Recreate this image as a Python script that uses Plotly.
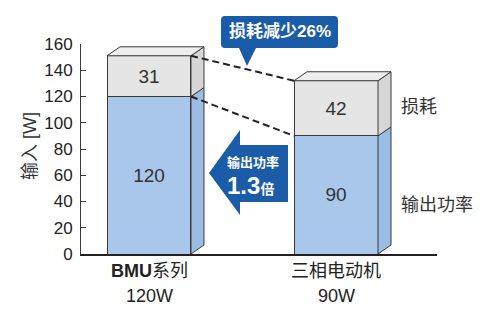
import plotly.graph_objects as go

categories = ["BMU系列", "三相电动机"]
power_labels = ["120W", "90W"]
output_power = [120, 90]
losses = [31, 42]
yticks = [0, 20, 40, 60, 80, 100, 120, 140, 160]

W, H = 490, 314
L, R, T, B = 81, 53, 44, 60
PW, PH = W - L - R, H - T - B
XR = [-0.3636, 1.540]
YR = [0, 160]
BW = 0.449
DX = 13 / (PW / (XR[1] - XR[0]))
DY = 9 / (PH / (YR[1] - YR[0]))

def px(x):
    return (x - L) / PW

def py(y):
    return (H - B - y) / PH

FONT = "Liberation Sans, Arial, Noto Sans CJK SC"
TXT = "#333333"
BLUE = "#a9c7ea"
BLUE_SIDE = "#9cbde3"
GRAY = "#e5e5e5"
GRAY_SIDE = "#d6d6d6"
GRAY_TOP = "#eeeeee"
DARK = "#1b5ca8"
EDGE = "#3a3a3a"

xs = list(range(len(categories)))
fig = go.Figure()
fig.add_trace(go.Bar(x=xs, y=output_power, width=BW, marker=dict(color=BLUE, line=dict(color=EDGE, width=1)),
                     text=[str(v) for v in output_power], textposition="inside", insidetextanchor="middle",
                     textfont=dict(size=19, color=TXT, family=FONT), hoverinfo="skip"))
fig.add_trace(go.Bar(x=xs, y=losses, width=BW, marker=dict(color=GRAY, line=dict(color=EDGE, width=1)),
                     text=[str(v) for v in losses], textposition="inside", insidetextanchor="middle",
                     textfont=dict(size=19, color=TXT, family=FONT), hoverinfo="skip"))

shapes = []
def poly(pts, fill):
    d = "M " + " L ".join(f"{a},{b}" for a, b in pts) + " Z"
    shapes.append(dict(type="path", path=d, xref="x", yref="y", fillcolor=fill,
                       line=dict(color=EDGE, width=1), layer="above"))

for i, (o, l) in enumerate(zip(output_power, losses)):
    xr = i + BW / 2
    xl = i - BW / 2
    tot = o + l
    poly([(xr, 0), (xr + DX, DY), (xr + DX, o + DY), (xr, o)], BLUE_SIDE)
    poly([(xr, o), (xr + DX, o + DY), (xr + DX, tot + DY), (xr, tot)], GRAY_SIDE)
    poly([(xl, tot), (xr, tot), (xr + DX, tot + DY), (xl + DX, tot + DY)], GRAY_TOP)

for a, b in [(output_power[0] + losses[0], output_power[1] + losses[1]), (output_power[0], output_power[1])]:
    shapes.append(dict(type="line", xref="x", yref="y", x0=0 + BW / 2, y0=a, x1=1 - BW / 2, y1=b,
                       line=dict(color="#222222", width=2, dash="7px,4px"), layer="above"))

def ppath(pts):
    return "M " + " L ".join(f"{px(a)},{py(b)}" for a, b in pts) + " Z"

arrow = [(209, 173), (240, 130), (240, 145), (288, 145), (288, 202), (240, 202), (240, 215)]
shapes.append(dict(type="path", path=ppath(arrow), xref="paper", yref="paper", fillcolor=DARK,
                   line=dict(width=0), layer="above"))
r = 4
x0, x1, y0, y1 = 221, 338, 16, 48
bub = (f"M {px(x0 + r)},{py(y0)} L {px(x1 - r)},{py(y0)} Q {px(x1)},{py(y0)} {px(x1)},{py(y0 + r)} "
       f"L {px(x1)},{py(y1 - r)} Q {px(x1)},{py(y1)} {px(x1 - r)},{py(y1)} "
       f"L {px(256)},{py(y1)} L {px(247)},{py(66)} L {px(239)},{py(y1)} "
       f"L {px(x0 + r)},{py(y1)} Q {px(x0)},{py(y1)} {px(x0)},{py(y1 - r)} "
       f"L {px(x0)},{py(y0 + r)} Q {px(x0)},{py(y0)} {px(x0 + r)},{py(y0)} Z")
shapes.append(dict(type="path", path=bub, xref="paper", yref="paper", fillcolor=DARK,
                   line=dict(width=0), layer="above"))

ann = []
def text(x, y, s, size, color=TXT, xanchor="center", angle=0):
    ann.append(dict(x=px(x), y=py(y), xref="paper", yref="paper", text=s, showarrow=False,
                    xanchor=xanchor, yanchor="middle", textangle=angle,
                    font=dict(size=size, color=color, family=FONT)))

text(280, 32, "<b>损耗减少26%</b>", 17, "white")
text(253, 162, "<b>输出功率</b>", 13, "white")
text(250, 185, "<b>1.3</b><b><span style='font-size:14px'>倍</span></b>", 24, "white")
text(399, 107, "损耗", 18, xanchor="left")
text(399, 205, "输出功率", 18, xanchor="left")
text(30, 146, "输入 [W]", 18, angle=-90)

for i, (c, p) in enumerate(zip(categories, power_labels)):
    lab = c.replace("BMU", "<b>BMU</b>")
    ann.append(dict(x=i, y=py(271), xref="x", yref="paper", text=lab, showarrow=False,
                    xanchor="center", yanchor="middle", font=dict(size=18, color="#222222", family=FONT)))
    ann.append(dict(x=i, y=py(296), xref="x", yref="paper", text=p, showarrow=False,
                    xanchor="center", yanchor="middle", font=dict(size=18, color="#222222", family=FONT)))

fig.update_layout(
    barmode="stack", width=W, height=H, margin=dict(l=L, r=R, t=T, b=B),
    paper_bgcolor="white", plot_bgcolor="white", showlegend=False,
    shapes=shapes, annotations=ann,
    uniformtext=dict(minsize=19, mode="show"),
    xaxis=dict(range=XR, showgrid=False, zeroline=False, showticklabels=False, ticks="",
               showline=True, linecolor="#222222", linewidth=1.5, fixedrange=True),
    yaxis=dict(range=YR, tickvals=yticks, showgrid=False, zeroline=False, showline=True,
               linecolor=EDGE, linewidth=1, ticks="inside", ticklen=5, tickcolor=EDGE,
               tickfont=dict(size=17, color="#222222", family=FONT), ticklabelstandoff=4, fixedrange=True),
)
fig.write_html("out.html", config={"displayModeBar": False})
